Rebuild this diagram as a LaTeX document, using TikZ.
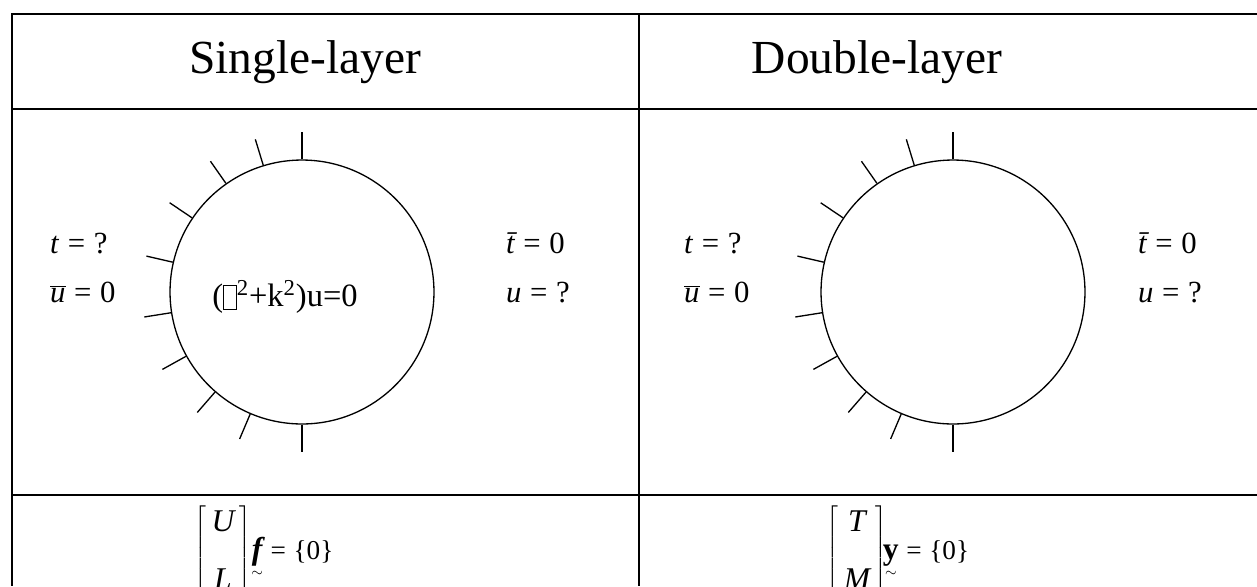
\documentclass[tikz,border=0pt]{standalone}
\usepackage{fontspec}
\setmainfont{Liberation Serif}
\newcommand{\nofontbox}{\raisebox{-0.15ex}{\setlength{\fboxsep}{0pt}\setlength{\fboxrule}{0.5pt}\fbox{\rule{0pt}{1.55ex}\hspace{0.8ex}}}}
\newcommand{\eqsp}{\hspace{0.28em}=\hspace{0.28em}}
\newcommand{\blockmat}[2]{\left[\vcenter{\hbox{\fontsize{18}{21}\selectfont
  \begin{tabular}{@{\hspace{3pt}}c@{\hspace{3pt}}}\itshape #1\\[12pt]\itshape #2\end{tabular}}}\right]}
\tikzset{
  grid line/.style={line width=1.2pt},
  headtext/.style={font=\fontsize{27}{32}\selectfont},
  bctext/.style={font=\fontsize{17.5}{20}\selectfont, align=left},
  eqtext/.style={font=\fontsize{15.5}{18}\selectfont},
  boundary/.style={circle, draw, line width=0.75pt, inner sep=0pt, minimum size=5.28cm},
}
\begin{document}
\begin{tikzpicture}[x=0.02cm, y=0.02cm]
  \useasboundingbox (0,0) rectangle (1257,-586);

  % table
  \draw[grid line] (1257,-14) -- (12,-14) -- (12,-586);
  \draw[grid line] (639,-14) -- (639,-586);
  \draw[grid line] (12,-109) -- (1257,-109);
  \draw[grid line] (12,-495) -- (1257,-495);

  \node[headtext] (single) at (305,-62) {Single-layer};
  \node[headtext] (double) at (877,-62) {Double-layer};

  % single-layer
  \node[boundary] (cs) at (302,-292) {};
  \foreach \a in {90,107,125,146,167,189,209,229,247,270}
    \draw[line width=0.75pt] (cs.\a) -- ++(\a:27);
  \node[font=\fontsize{18.5}{22}\selectfont] (helm) at (285,-297)
    {(\nofontbox\textsuperscript{2}+k\textsuperscript{2})u=0};
  \node[bctext, anchor=west] (sl) at (44,-268)
    {\textit{t}\eqsp?\\[8pt]$\overline{\hbox{\itshape u}}$\eqsp0};
  \node[bctext, anchor=west] (sr) at (500,-268)
    {{\itshape\=t}\eqsp0\\[8pt]\textit{u}\eqsp?};

  % double-layer
  \node[boundary] (cd) at (953,-292) {};
  \foreach \a in {90,107,125,146,167,189,209,229,247,270}
    \draw[line width=0.75pt] (cd.\a) -- ++(\a:27);
  \node[bctext, anchor=west] (dl) at (678,-268)
    {\textit{t}\eqsp?\\[8pt]$\overline{\hbox{\itshape u}}$\eqsp0};
  \node[bctext, anchor=west] (dr) at (1132,-268)
    {{\itshape\=t}\eqsp0\\[8pt]\textit{u}\eqsp?};

  % systems
  \node[eqtext] (ul) at (264,-553)
    {$\blockmat{U}{L}\!
     \mathop{\hbox{\fontsize{18}{21}\selectfont\bfseries\itshape f}}\limits_{\scriptscriptstyle\sim}$\eqsp\{0\}};
  \node[eqtext] (tm) at (898,-553)
    {$\blockmat{T}{M}\!\!
     \mathop{\hbox{\fontsize{18}{21}\selectfont\bfseries y}}\limits_{\scriptscriptstyle\sim}$\eqsp\{0\}};
\end{tikzpicture}
\end{document}
